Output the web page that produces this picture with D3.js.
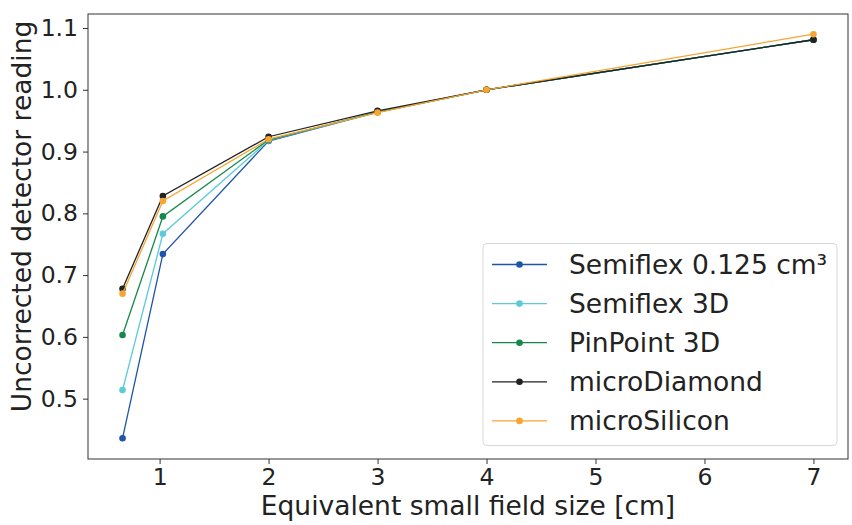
<!DOCTYPE html>
<html>
<head>
<meta charset="utf-8">
<script src="https://cdn.jsdelivr.net/npm/d3@7"></script>
<style>
  body { margin: 0; background: #fff; }
  text { font-family: "DejaVu Sans", sans-serif; fill: #222; }
</style>
</head>
<body>
<svg id="chart" width="852" height="525"></svg>
<script>
// field sizes (cm) and readings per detector
const fieldSizes = [0.66, 1.03, 2, 3, 4, 7];
const semiflex0125 = [0.436, 0.734, 0.917, 0.964, 1.0, 1.081];
const semiflex3D = [0.514, 0.767, 0.918, 0.964, 1.0, 1.081];
const pinpoint3D = [0.603, 0.795, 0.919, 0.964, 1.0, 1.081];
const microDiamond = [0.678, 0.828, 0.924, 0.966, 1.0, 1.081];
const microSilicon = [0.670, 0.820, 0.920, 0.963, 1.0, 1.090];
const xTicks = [1, 2, 3, 4, 5, 6, 7];
const yTicks = [0.5, 0.6, 0.7, 0.8, 0.9, 1.0, 1.1];

const series = [
    {name: 'Semiflex 0.125 cm³', values: semiflex0125, color: '#1f55a8'},
    {name: 'Semiflex 3D', values: semiflex3D, color: '#5ccad8'},
    {name: 'PinPoint 3D', values: pinpoint3D, color: '#16884a'},
    {name: 'microDiamond', values: microDiamond, color: '#222222'},
    {name: 'microSilicon', values: microSilicon, color: '#f8a431'}
];

const plotL = 88, plotR = 848, plotT = 14, plotB = 459;
const svg = d3.select('#chart');

const x = d3.scaleLinear().domain([0.343, 7.317]).range([plotL, plotR]);
const y = d3.scaleLinear().domain([0.4023, 1.1227]).range([plotB, plotT]);

// axes
const xAxis = svg.append('g')
    .attr('transform', `translate(0,${plotB})`)
    .call(d3.axisBottom(x).tickValues(xTicks).tickFormat(d3.format('d')).tickSize(5).tickPadding(4));
const yAxis = svg.append('g')
    .attr('transform', `translate(${plotL},0)`)
    .call(d3.axisLeft(y).tickValues(yTicks).tickFormat(d3.format('.1f')).tickSize(5).tickPadding(5));

[xAxis, yAxis].forEach(a => {
    a.select('.domain').remove();
    a.selectAll('.tick line').attr('stroke', '#333').attr('stroke-width', 1);
    a.selectAll('.tick text').style('font-size', '23.5px').attr('fill', '#222');
});

svg.append('rect')
    .attr('x', plotL).attr('y', plotT)
    .attr('width', plotR - plotL).attr('height', plotB - plotT)
    .attr('fill', 'none').attr('stroke', '#333').attr('stroke-width', 1);

// lines + markers
const line = d3.line().x((d, i) => x(fieldSizes[i])).y(d => y(d));
const groups = svg.selectAll('g.series')
    .data(series)
    .enter()
    .append('g')
    .classed('series', true);

groups.append('path')
    .attr('d', d => line(d.values))
    .attr('fill', 'none')
    .attr('stroke', d => d.color)
    .attr('stroke-width', 1.3);

groups.selectAll('circle')
    .data(d => d.values.map((v, i) => ({v, i, color: d.color})))
    .enter()
    .append('circle')
    .attr('cx', d => x(fieldSizes[d.i]))
    .attr('cy', d => y(d.v))
    .attr('r', 3.3)
    .attr('fill', d => d.color);

// axis labels
svg.append('text')
    .attr('x', 468)
    .attr('y', 515)
    .attr('text-anchor', 'middle')
    .style('font-size', '26.5px')
    .text('Equivalent small field size [cm]');

svg.append('text')
    .attr('transform', 'translate(31,216.5) rotate(-90)')
    .attr('text-anchor', 'middle')
    .style('font-size', '26.5px')
    .text('Uncorrected detector reading');

// legend
const legend = svg.append('g');
legend.append('rect')
    .attr('x', 483).attr('y', 243.5)
    .attr('width', 354).attr('height', 202)
    .attr('rx', 4)
    .attr('fill', '#fff').attr('fill-opacity', 0.8)
    .attr('stroke', '#d8d8d8');

const items = legend.selectAll('g.item')
    .data(series)
    .enter()
    .append('g')
    .classed('item', true)
    .attr('transform', (d, i) => `translate(0,${264.5 + i * 39.1})`);

items.append('line')
    .attr('x1', 492).attr('x2', 547)
    .attr('stroke', d => d.color).attr('stroke-width', 1.3);
items.append('circle')
    .attr('cx', 519.5).attr('r', 3.3)
    .attr('fill', d => d.color);
items.append('text')
    .attr('x', 569)
    .attr('dy', '0.35em')
    .style('font-size', '26.5px')
    .text(d => d.name);
</script>
</body>
</html>
